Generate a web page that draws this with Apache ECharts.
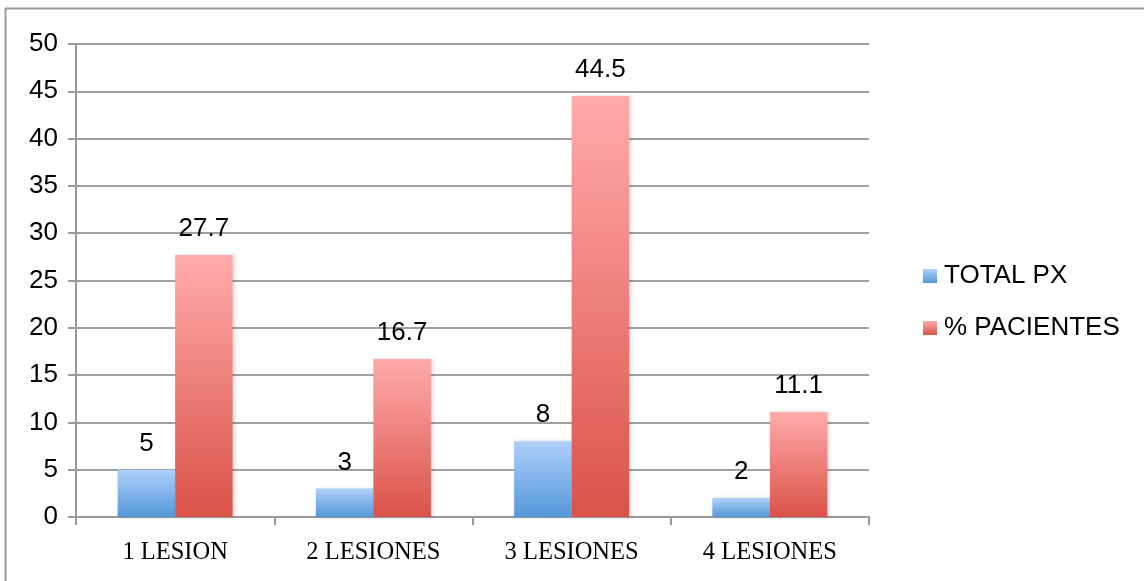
<!DOCTYPE html>
<html>
<head>
<meta charset="utf-8">
<script src="https://cdn.jsdelivr.net/npm/echarts@6/dist/echarts.min.js"></script>
<style>
  html, body { margin: 0; padding: 0; background: #fff; }
  #main { width: 1144px; height: 581px; }
</style>
</head>
<body>
<div id="main"></div>
<script>
var categories = ['1 LESION', '2 LESIONES', '3 LESIONES', '4 LESIONES'];
var totalPx = [5, 3, 8, 2];
var pctPacientes = [27.7, 16.7, 44.5, 11.1];
var yTicks = [0, 5, 10, 15, 20, 25, 30, 35, 40, 45, 50];

var myChart = echarts.init(document.getElementById('main'));

function grad(top, bottom) {
  return new echarts.graphic.LinearGradient(0, 0, 0, 1, [
    { offset: 0, color: top },
    { offset: 1, color: bottom }
  ]);
}

var labelStyle = {
  show: true,
  position: 'top',
  distance: 13,
  color: '#000',
  fontFamily: 'Liberation Sans, Arial, sans-serif',
  fontSize: 26
};

var option = {
  animation: false,
  backgroundColor: '#fff',
  grid: { left: 76, right: 275, top: 44, bottom: 64 },
  legend: {
    orient: 'vertical',
    left: 918,
    top: 258,
    itemWidth: 14,
    itemHeight: 14,
    itemGap: 26,
    icon: 'rect',
    textStyle: {
      color: '#000',
      fontFamily: 'Liberation Sans, Arial, sans-serif',
      fontSize: 26,
      padding: [0, 0, 0, 2]
    },
    data: ['TOTAL PX', '% PACIENTES']
  },
  xAxis: {
    type: 'category',
    data: categories,
    axisLine: { lineStyle: { color: '#999', width: 2 } },
    axisTick: { show: true, length: 8, lineStyle: { color: '#999', width: 2 } },
    axisLabel: {
      color: '#000',
      fontFamily: 'Liberation Serif, Times New Roman, serif',
      fontSize: 24.5,
      margin: 23
    }
  },
  yAxis: {
    type: 'value',
    min: yTicks[0],
    max: yTicks[yTicks.length - 1],
    interval: 5,
    axisLine: { show: true, lineStyle: { color: '#999', width: 2 } },
    axisTick: { show: true, length: 8, lineStyle: { color: '#999', width: 2 } },
    splitLine: { lineStyle: { color: '#a0a0a0', width: 2 } },
    axisLabel: {
      color: '#000',
      fontFamily: 'Liberation Sans, Arial, sans-serif',
      fontSize: 26,
      margin: 18
    }
  },
  series: [
    {
      name: 'TOTAL PX',
      type: 'bar',
      data: totalPx,
      barGap: '0%',
      barCategoryGap: '42%',
      itemStyle: {
        color: grad('#aed0fa', '#5597da'),
        shadowColor: 'rgba(0,0,0,0.15)',
        shadowBlur: 4,
        shadowOffsetX: 2
      },
      label: labelStyle
    },
    {
      name: '% PACIENTES',
      type: 'bar',
      data: pctPacientes,
      itemStyle: {
        color: grad('#ffabab', '#da5248'),
        shadowColor: 'rgba(0,0,0,0.15)',
        shadowBlur: 4,
        shadowOffsetX: 2
      },
      label: labelStyle
    }
  ],
  graphic: [
    { type: 'line', shape: { x1: 5, y1: 8.5, x2: 1144, y2: 8.5 }, style: { stroke: '#999', lineWidth: 2 } },
    { type: 'line', shape: { x1: 5.5, y1: 8, x2: 5.5, y2: 581 }, style: { stroke: '#999', lineWidth: 2 } }
  ]
};

myChart.setOption(option);
</script>
</body>
</html>
